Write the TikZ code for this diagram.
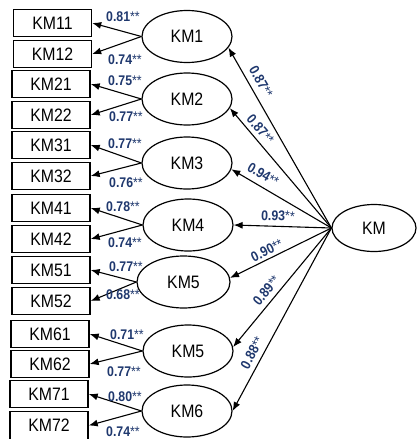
\documentclass[tikz,border=0pt]{standalone}
\usepackage{fontspec}
\setmainfont{Liberation Sans}[FakeStretch=0.88]
\usetikzlibrary{arrows.meta,shapes.geometric}
\definecolor{lblue}{RGB}{31,56,110}
\newcommand\coef[1]{\textbf{#1}**}
\begin{document}
\begin{tikzpicture}[x=1pt,y=-1pt,
  obs/.style={draw, line width=1.4pt, minimum width=78pt, minimum height=27pt, inner sep=0pt, font=\fontsize{18}{20}\selectfont},
  lat/.style={draw, ellipse, line width=1.2pt, minimum width=90pt, minimum height=52pt, inner sep=0pt, font=\fontsize{18}{20}\selectfont},
  arr/.style={-{Latex[length=9pt,width=7pt]}, line width=1.1pt},
  lab/.style={text=lblue, inner sep=0pt, font=\fontsize{14}{16}\selectfont},
  llab/.style={lab, anchor=west}]
\useasboundingbox (0,0) rectangle (417,439);
% observed indicators
\node[obs] (b11) at (52.5,23) {KM11};
\node[obs] (b12) at (52.5,54) {KM12};
\node[obs] (b21) at (51,84) {KM21};
\node[obs] (b22) at (51,115) {KM22};
\node[obs] (b31) at (51,145) {KM31};
\node[obs] (b32) at (51,176) {KM32};
\node[obs] (b41) at (51,208) {KM41};
\node[obs] (b42) at (51,239) {KM42};
\node[obs] (b51) at (51,270) {KM51};
\node[obs] (b52) at (51,301) {KM52};
\node[obs] (b61) at (50,334) {KM61};
\node[obs] (b62) at (50,364) {KM62};
\node[obs] (b71) at (49,394) {KM71};
\node[obs, minimum height=28pt] (b72) at (49,425.5) {KM72};
% first-order factors
\node[lat] (k1) at (187,36.5) {KM1};
\node[lat] (k2) at (187,99) {KM2};
\node[lat] (k3) at (187,163) {KM3};
\node[lat] (k4) at (188,225) {KM4};
\node[lat, minimum width=93pt] (k5) at (183.5,282) {KM5};
\node[lat] (k5b) at (188,351) {KM5};
\node[lat] (k6) at (187,411) {KM6};
% second-order factor
\node[lat, minimum width=84pt, minimum height=47pt] (km) at (374,228) {KM};
% loadings of indicators
\draw[arr] (k1.west) -- (b11.east);
\draw[arr] (k1.west) -- (b12.east);
\draw[arr] (k2.west) -- (b21.east);
\draw[arr] (k2.west) -- (b22.east);
\draw[arr] (k3.west) -- (b31.east);
\draw[arr] (k3.west) -- (b32.east);
\draw[arr] (k4.west) -- (b41.east);
\draw[arr] (k4.west) -- (b42.east);
\draw[arr] (k5.west) -- (b51.east);
\draw[arr] (k5.west) -- (b52.east);
\draw[arr] (k5b.west) -- (b61.east);
\draw[arr] (k5b.west) -- (b62.east);
\draw[arr] (k6.west) -- (b71.east);
\draw[arr] (k6.west) -- (b72.east);
% left labels
\node[llab] (l11) at (106,17) {\coef{0.81}};
\node[llab] (l12) at (108,60) {\coef{0.74}};
\node[llab] (l21) at (108,81) {\coef{0.75}};
\node[llab] (l22) at (109,117) {\coef{0.77}};
\node[llab] (l31) at (108,144) {\coef{0.77}};
\node[llab] (l32) at (109,183) {\coef{0.76}};
\node[llab] (l41) at (106,207) {\coef{0.78}};
\node[llab] (l42) at (108,243) {\coef{0.74}};
\node[llab] (l51) at (109,267) {\coef{0.77}};
\node[llab] (l52) at (106,295) {\coef{0.68}};
\node[llab] (l61) at (110,335) {\coef{0.71}};
\node[llab] (l62) at (107,372) {\coef{0.77}};
\node[llab] (l71) at (108,397) {\coef{0.80}};
\node[llab] (l72) at (106,432) {\coef{0.74}};
% second-order loadings
\draw[arr] (km.west) -- node[lab, sloped, pos=0.78, above=6pt] {\coef{0.87}} (k1.-15);
\draw[arr] (km.west) -- node[lab, sloped, pos=0.77, above=4pt] {\coef{0.87}} (k2.-12);
\draw[arr] (km.west) -- node[lab, sloped, pos=0.74, above=6pt] {\coef{0.94}} (k3.-8);
\draw[arr] (km.west) -- node[lab, sloped, pos=0.55, above=5pt] {\coef{0.93}} (k4.0);
\draw[arr] (km.west) -- node[lab, sloped, pos=0.60, above=3pt] {\coef{0.90}} (k5.5);
\draw[arr] (km.west) -- node[lab, sloped, pos=0.58, above=5pt] {\coef{0.89}} (k5b.5);
\draw[arr] (km.west) -- node[lab, sloped, pos=0.71, above=5pt] {\coef{0.88}} (k6.0);
\end{tikzpicture}
\end{document}
